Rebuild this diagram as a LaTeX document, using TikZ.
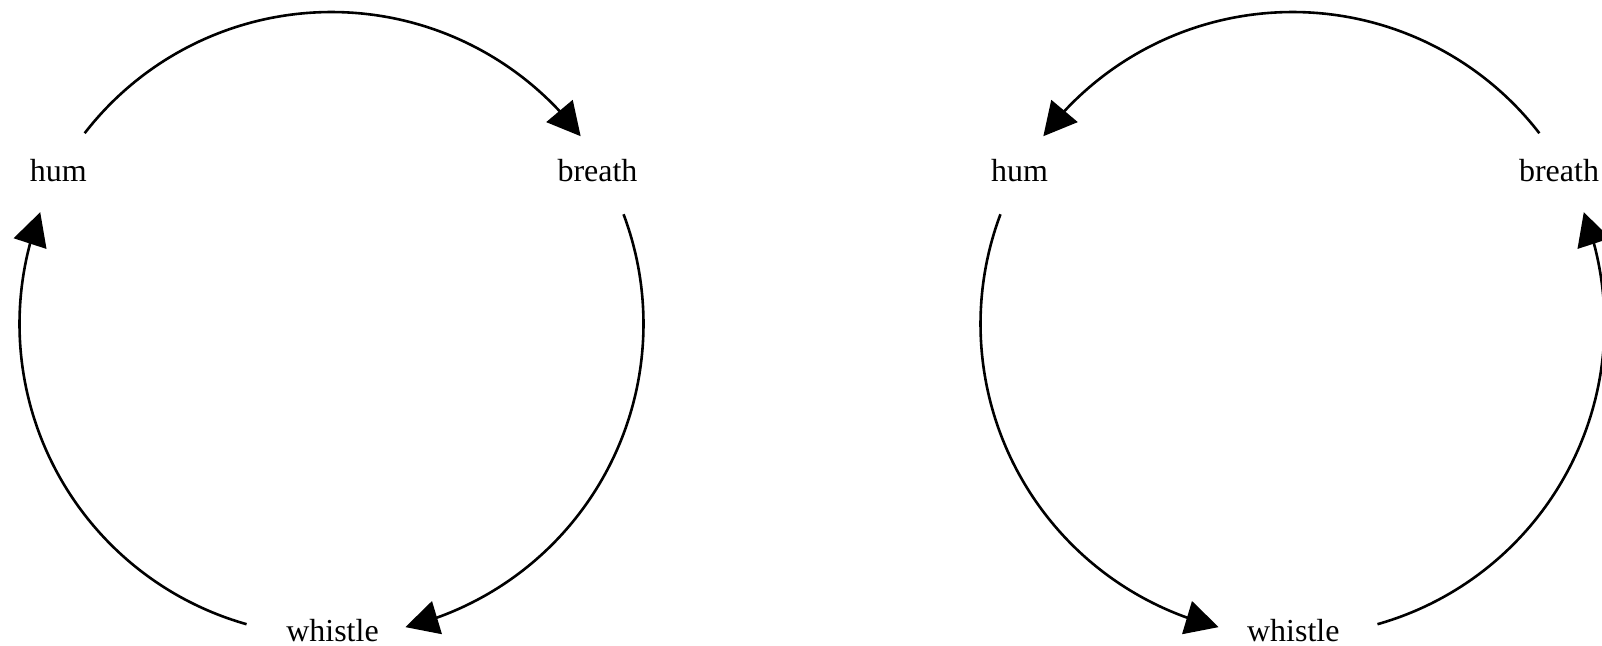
\documentclass[tikz,border=0pt]{standalone}
\usepackage{fontspec}
\setmainfont{Liberation Serif}
\usetikzlibrary{arrows.meta,bending}
\begin{document}
\begin{tikzpicture}[x=0.5pt,y=-0.5pt,
  lbl/.style={anchor=base,inner sep=0pt,font=\fontsize{16pt}{19pt}\selectfont},
  arr/.style={line width=1.3pt,-{Triangle[length=16.5pt,width=17pt,flex]}}]
\useasboundingbox (0,0) rectangle (1602,645);
% left cycle (y axis points down, so angles are negated)
\coordinate (L) at (331.5,324);
\node[lbl] (hum1) at (58.3,181.7) {hum};
\node[lbl] (breath1) at (597.5,181.7) {breath};
\node[lbl] (whistle1) at (332.5,641.7) {whistle};
\draw[arr] ([shift={(-142.3:312)}]L) arc[start angle=-142.3,end angle=-37,radius=312];
\draw[arr] ([shift={(-20.6:312)}]L) arc[start angle=-20.6,end angle=76.3,radius=312];
\draw[arr] ([shift={(-254.2:312)}]L) arc[start angle=-254.2,end angle=-159,radius=312];
% right cycle
\coordinate (R) at (1292.5,324);
\node[lbl] (hum2) at (1019.5,181.7) {hum};
\node[lbl] (breath2) at (1559,181.7) {breath};
\node[lbl] (whistle2) at (1293.3,641.7) {whistle};
\draw[arr] ([shift={(-37.7:312)}]R) arc[start angle=-37.7,end angle=-143,radius=312];
\draw[arr] ([shift={(-159.4:312)}]R) arc[start angle=-159.4,end angle=-256.3,radius=312];
\draw[arr] ([shift={(74.2:312)}]R) arc[start angle=74.2,end angle=-21,radius=312];
\end{tikzpicture}
\end{document}
